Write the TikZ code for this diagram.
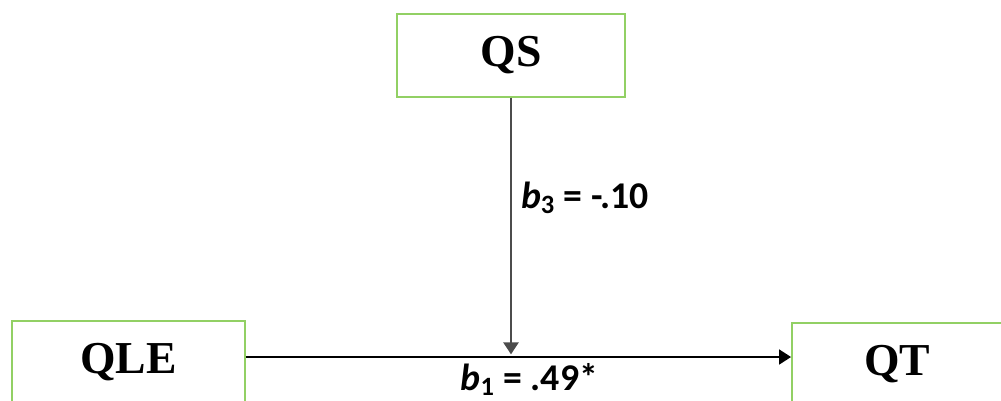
\documentclass[tikz,border=0pt]{standalone}
\usepackage{fontspec}
\setmainfont{Liberation Serif}
\newfontfamily\coeffont{Carlito}
\usepackage{xcolor}
\usetikzlibrary{arrows.meta, positioning}
\definecolor{boxgreen}{RGB}{146,208,100}

\begin{document}
\begin{tikzpicture}[
  x=0.02cm, y=-0.02cm,
  var/.style={draw=boxgreen, line width=1.1pt, fill=white, align=center, inner sep=0pt, font=\fontsize{26}{30}\selectfont\bfseries},
  coef/.style={font=\coeffont\fontsize{21.5}{25}\selectfont\bfseries, inner sep=3pt},
  arrow/.style={-{Triangle[length=2.4mm, width=3mm]}, line width=1pt}
]
  \clip (0,0) rectangle (1001,400);

  % Variables
  \node[var, minimum width=4.56cm, minimum height=1.66cm] (QS) at (511,55.5) {QS};
  \node[var, minimum width=4.66cm, minimum height=1.66cm] (QLE) at (128.5,362.5) {QLE};
  \node[var, minimum width=4.2cm, minimum height=1.66cm] (QT) at (897,364.5) {QT};
  \coordinate (meet) at (511,357);

  % Paths
  \draw[arrow] (QLE.east |- meet) -- node[coef, below, pos=0.52] {\textit{b}\textsubscript{1} = .49*} (QT.west |- meet);
  \draw[arrow, line width=1.4pt, draw=black!70, fill=black] (QS.south) -- node[coef, right, pos=0.39, xshift=2pt] {\textit{b}\textsubscript{3} = -.10} ([yshift=1.5pt]meet);

\end{tikzpicture}
\end{document}
